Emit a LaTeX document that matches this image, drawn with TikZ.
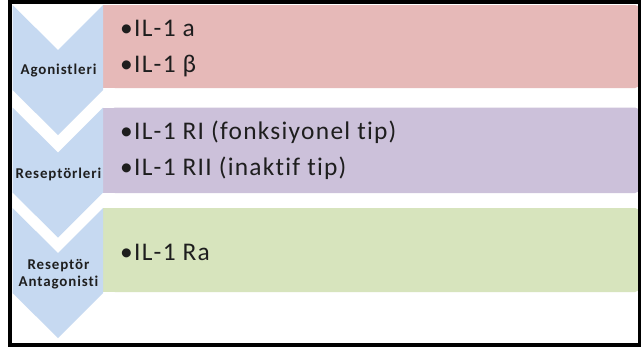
\documentclass[tikz,border=0pt]{standalone}
\usepackage{fontspec}
\setmainfont{Carlito}[Ligatures=NoCommon]
\newfontfamily\itemfont{Carlito}[Ligatures=NoCommon,LetterSpace=5]
\newfontfamily\labelfont{Carlito}[Ligatures=NoCommon,LetterSpace=6]
\definecolor{chev}{RGB}{198,217,241}
\definecolor{pinkbox}{RGB}{230,185,184}
\definecolor{lilacbox}{RGB}{204,193,218}
\definecolor{greenbox}{RGB}{215,228,189}
\definecolor{itemtext}{RGB}{30,30,30}
\tikzset{
  chevshape/.style={fill=chev, draw=none},
  itemline/.style={anchor=base west, inner sep=0pt, font=\itemfont\fontsize{25.5}{30}\selectfont, text=itemtext},
  steplabel/.style={anchor=base, inner sep=0pt, font=\labelfont\fontsize{15}{18}\selectfont\bfseries, text=black!88},
}
% chevron pointing down: #1 = top y
\newcommand{\chevron}[1]{%
  \fill[chevshape] (12.5,#1) -- (58,#1+45) -- (103,#1) -- (103,#1+85)
    -- (58,#1+130) -- (12.5,#1+85) -- cycle;}
% item box, square on the left and rounded on the right: #1 colour, #2 top, #3 bottom
\newcommand{\itemband}[3]{%
  \fill[#1, rounded corners=5bp] (110,#2) rectangle (640,#3);
  \fill[#1] (103,#2) rectangle (120,#3);}
\begin{document}
\begin{tikzpicture}[x=1bp,y=-1bp]
\useasboundingbox (0,0) rectangle (641,349);
\fill[white] (0,0) rectangle (641,349);

% coloured item boxes
\itemband{pinkbox}{5}{88}
\itemband{lilacbox}{107.5}{193}
\itemband{greenbox}{208}{292}

% down-pointing chevrons
\chevron{5}
\chevron{107.5}
\chevron{208}

% chevron labels
\node[steplabel] (lab1) at (58.5,74) {Agonistleri};
\node[steplabel] (lab2) at (58.5,178) {Reseptörleri};
\node[steplabel] (lab3a) at (58.5,269.5) {Reseptör};
\node[steplabel] (lab3b) at (58.5,286.5) {Antagonisti};

% item lines
\node[itemline] (a1) at (120,36) {•IL-1 a};
\node[itemline] (a2) at (120,72) {•IL-1 β};
\node[itemline] (r1) at (120,139.5) {•IL-1 RI (fonksiyonel tip)};
\node[itemline] (r2) at (120,175.5) {•IL-1 RII (inaktif tip)};
\node[itemline] (g1) at (120,260) {•IL-1 Ra};

% outer frame
\draw[line width=4bp] (9.5,2) rectangle (639.5,345);
\end{tikzpicture}
\end{document}
